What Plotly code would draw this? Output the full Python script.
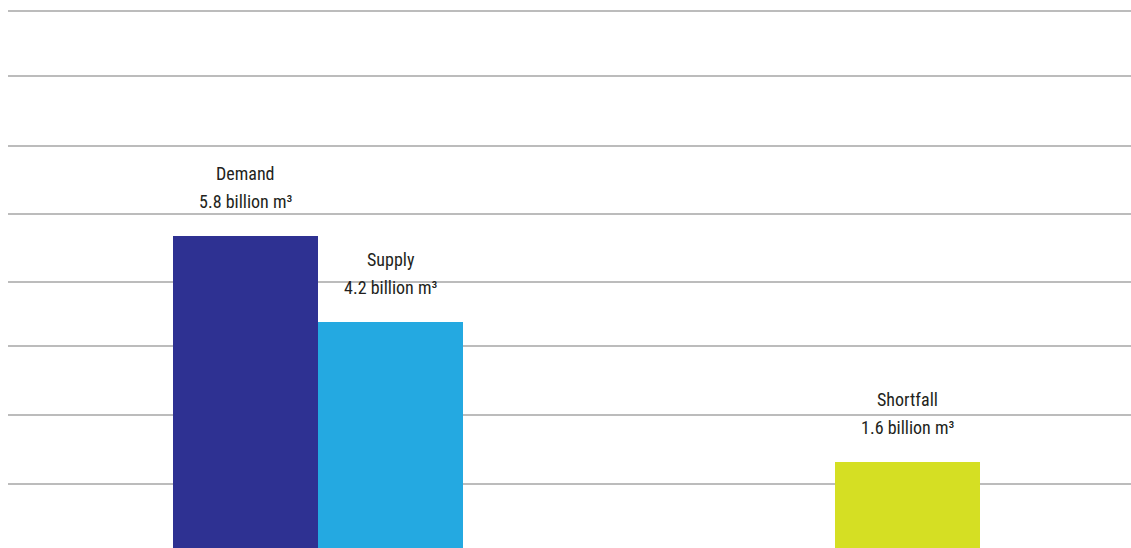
import plotly.graph_objects as go

# Water balance, billion cubic metres
categories = ["Demand", "Supply", "Shortfall"]
values = [5.8, 4.2, 1.6]
value_labels = ["5.8 billion m³", "4.2 billion m³", "1.6 billion m³"]
colors = ["#2e3192", "#24a9e1", "#d5df23"]

# horizontal placement of the bars (bar width = 1 unit)
x_pos = [0, 1, 4.566]
grid_vals = [1.19, 2.475, 3.76, 4.95, 6.22, 7.48, 8.78, 9.99]

FONT = "Liberation Sans Narrow, Roboto Condensed, Arial Narrow, Roboto, sans-serif"

fig = go.Figure()
fig.add_trace(go.Bar(
    x=x_pos, y=values, width=1.0,
    marker=dict(color=colors, line=dict(width=0)),
    hoverinfo="skip", showlegend=False,
))

annotations = []
for xp, name, val, lab in zip(x_pos, categories, values, value_labels):
    annotations.append(dict(x=xp, y=val, text=name, showarrow=False,
                            xanchor="center", yanchor="middle", yshift=63,
                            font=dict(family=FONT, size=18, color="#231f20")))
    annotations.append(dict(x=xp, y=val, text=lab, showarrow=False,
                            xanchor="center", yanchor="middle", yshift=35,
                            font=dict(family=FONT, size=18, color="#231f20")))

fig.update_layout(
    width=1131, height=548,
    margin=dict(l=8, r=0, t=0, b=0),
    paper_bgcolor="white", plot_bgcolor="white",
    bargap=0,
    xaxis=dict(range=[-1.638, 6.107], showgrid=False, zeroline=False,
               showticklabels=False, showline=False, fixedrange=True),
    yaxis=dict(range=[0, 10.2], tickvals=grid_vals, showticklabels=False,
               showgrid=True, gridcolor="#bcbcbc", gridwidth=1.5,
               zeroline=False, showline=False, fixedrange=True),
    annotations=annotations,
)

fig.write_html("out.html", config={"displayModeBar": False})
